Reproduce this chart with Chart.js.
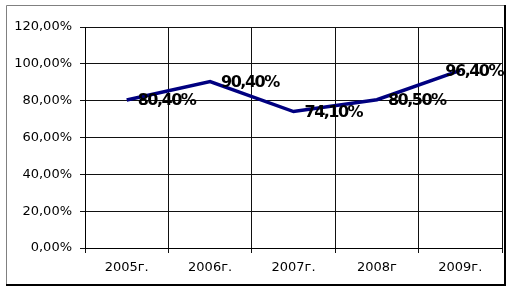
<!DOCTYPE html>
<html>
<head>
<meta charset="utf-8">
<script src="https://cdn.jsdelivr.net/npm/chart.js@4/dist/chart.umd.min.js"></script>
<style>
html,body{margin:0;padding:0;background:#fff;}
#wrap{width:510px;height:291px;position:relative;}
</style>
</head>
<body>
<div id="wrap"><canvas id="c" width="510" height="291"></canvas></div>
<script>
const categories = ["2005г.", "2006г.", "2007г.", "2008г", "2009г."];
const values = [80.4, 90.4, 74.1, 80.5, 96.4];
const yTicks = [0, 20, 40, 60, 80, 100, 120];

const fmt = v => v.toFixed(2).replace('.', ',') + '%';

const framePlugin = {
  id: 'frame',
  beforeDraw(chart) {
    const ctx = chart.ctx;
    ctx.save();
    ctx.fillStyle = '#fff';
    ctx.fillRect(0, 0, chart.width, chart.height);
    ctx.strokeStyle = '#808080';
    ctx.lineWidth = 1;
    ctx.beginPath();
    ctx.moveTo(6.5, 286); ctx.lineTo(6.5, 5.5); ctx.lineTo(505, 5.5);
    ctx.stroke();
    ctx.strokeStyle = '#000';
    ctx.lineWidth = 2;
    ctx.beginPath();
    ctx.moveTo(505, 5); ctx.lineTo(505, 285); ctx.lineTo(6, 285);
    ctx.stroke();
    ctx.restore();
  }
};

const labelPlugin = {
  id: 'vlabels',
  afterDatasetsDraw(chart) {
    const ctx = chart.ctx;
    const meta = chart.getDatasetMeta(0);
    ctx.save();
    ctx.font = 'bold 16px "DejaVu Sans"';
    try { ctx.letterSpacing = '-1.5px'; } catch (e) {}
    ctx.fillStyle = '#000';
    ctx.textBaseline = 'middle';
    ctx.textAlign = 'left';
    meta.data.forEach((pt, i) => {
      const txt = fmt(values[i]);
      const w = ctx.measureText(txt).width;
      let x = pt.x + 11;
      if (x + w > 503) x = 503 - w;
      ctx.fillText(txt, x, pt.y + 1);
    });
    ctx.restore();
  }
};

new Chart(document.getElementById('c'), {
  type: 'line',
  data: {
    labels: categories,
    datasets: [{
      data: values,
      borderColor: '#000080',
      borderWidth: 3.5,
      pointRadius: 0,
      tension: 0,
      fill: false
    }]
  },
  options: {
    responsive: false,
    animation: false,
    devicePixelRatio: 1,
    layout: { padding: { left: 0, right: 8, top: 27, bottom: 0 } },
    plugins: { legend: { display: false }, tooltip: { enabled: false } },
    scales: {
      x: {
        offset: true,
        grid: { offset: true, color: '#111', lineWidth: 1, tickLength: 5, drawTicks: true },
        border: { color: '#000', width: 1 },
        ticks: { color: '#000', font: { family: '"DejaVu Sans"', size: 13 }, padding: 7, maxRotation: 0 },
        afterFit(s) { s.height = 43; }
      },
      y: {
        min: 0, max: 120,
        afterBuildTicks(s) { s.ticks = yTicks.map(v => ({ value: v })); },
        grid: { color: '#111', lineWidth: 1, tickLength: 5 },
        border: { color: '#000', width: 1 },
        ticks: { color: '#000', font: { family: '"DejaVu Sans"', size: 13 }, padding: 8, callback: v => fmt(v) },
        afterFit(s) { s.width = 85; }
      }
    }
  },
  plugins: [framePlugin, labelPlugin]
});
</script>
</body>
</html>
